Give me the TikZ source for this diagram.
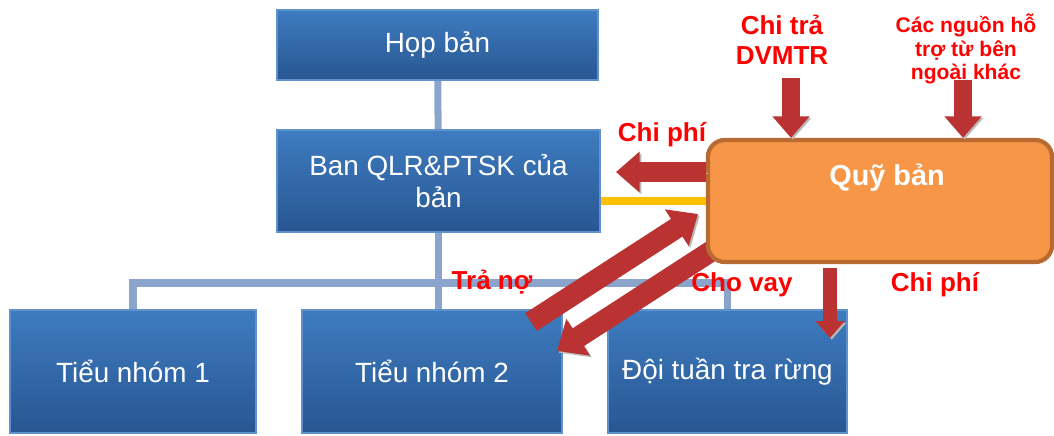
\documentclass[tikz,border=0pt]{standalone}
\usepackage{fontspec}
\setmainfont{Liberation Sans}
\usetikzlibrary{arrows.meta,calc,backgrounds}
\definecolor{boxtop}{RGB}{62,124,192}
\definecolor{boxbot}{RGB}{40,86,146}
\definecolor{boxedge}{RGB}{95,145,205}
\definecolor{linkblue}{RGB}{138,164,204}
\definecolor{quyfill}{RGB}{247,150,70}
\definecolor{quyedge}{RGB}{184,106,50}
\definecolor{arrred}{RGB}{186,50,50}
\definecolor{linkyellow}{RGB}{255,192,0}
\tikzset{
  bluebox/.style={rectangle,top color=boxtop,bottom color=boxbot,draw=boxedge,line width=1pt,
    inner sep=0pt,text=white,align=center,font=\fontsize{19.8}{23}\selectfont},
  link/.style={draw=linkblue,line width=5pt},
  redlbl/.style={text=red,font=\bfseries\fontsize{18.5}{21}\selectfont,align=center,inner sep=0pt},
  bigarrow/.style={draw=arrred,line width=#1,-{Triangle[width=0pt 2,length=0pt 1.2]},
    preaction={draw=gray!55,transform canvas={shift={(1.2pt,-1.2pt)}}}},
  bigarrow/.default=14pt
}
\begin{document}
\begin{tikzpicture}[x=0.025cm,y=-0.025cm]
\useasboundingbox (0,0) rectangle (1054,435);

% organisation boxes
\node[bluebox,minimum width=8.025cm,minimum height=1.75cm] (hop) at (437.5,45) {Họp bản};
\node[bluebox,minimum width=8.075cm,minimum height=2.55cm] (ban) at (438.5,181) {Ban QLR\&PTSK của\\bản};
\node[bluebox,minimum width=6.15cm,minimum height=3.075cm] (tn1) at (133,371.5) {Tiểu nhóm 1};
\node[bluebox,minimum width=6.5cm,minimum height=3.075cm] (tn2) at (432,371.5) {Tiểu nhóm 2};
\node[bluebox,minimum width=5.975cm,minimum height=3.075cm] (doi) at (727.5,371.5) {Đội tuần tra rừng};

\begin{scope}[on background layer]
\coordinate (j) at (ban.south |- 0,283);
\draw[link] (hop) -- (ban);
\draw[link] (ban) -- (j);
\draw[link] (tn1.north) |- (j) -| (doi.north);
\draw[link] (j) -- (j |- tn2.north);
\end{scope}

\coordinate (quyW) at (708,201);
\draw[linkyellow,line width=5pt] (ban.east |- quyW) -- (quyW);

% loans
\coordinate (tnTail) at (531,322);
\coordinate (tnTip) at (698,214);
\coordinate (cvTail) at (716,248);
\coordinate (cvTip) at (557,351);
\draw[bigarrow=15pt] (tnTail) -- (tnTip);
\draw[bigarrow=15pt] (cvTail) -- (cvTip);

% fund
\node[draw=quyedge,fill=quyfill,line width=3pt,rounded corners=12pt,minimum width=8.6cm,
  minimum height=3.05cm,inner sep=0pt] (quy) at (880,201) {};
\node[text=white,font=\bfseries\fontsize{20.5}{24}\selectfont,inner sep=0pt] (quytxt) at (887,178) {Quỹ bản};

% money flows
\coordinate (cpTail) at ($(quy.west)+(0,-29)$);
\coordinate (cpTip) at (616,172);
\draw[bigarrow=14pt] (cpTail) -- (cpTip);
\coordinate (dvTail) at (791,78);
\draw[bigarrow=12.8pt] (dvTail) -- (dvTail |- quy.north);
\coordinate (ngTail) at (963,80);
\draw[bigarrow=12.8pt] (ngTail) -- (ngTail |- quy.north);
\coordinate (cdTail) at (830,268);
\coordinate (cdTip) at (830,338);
\draw[bigarrow=10pt] (cdTail) -- (cdTip);

% labels
\node[redlbl] (lblCp1) at (662,135) {Chi phí};
\node[redlbl] (lblDv) at (782,40) {Chi trả\\DVMTR};
\node[redlbl,font=\bfseries\fontsize{15}{17}\selectfont] (lblNg) at (966,49) {Các nguồn hỗ\\trợ từ bên\\ngoài khác};
\node[redlbl] (lblTn) at (492,282) {Trả nợ};
\node[redlbl] (lblCv) at (742,285) {Cho vay};
\node[redlbl] (lblCp2) at (935,285) {Chi phí};
\end{tikzpicture}
\end{document}
